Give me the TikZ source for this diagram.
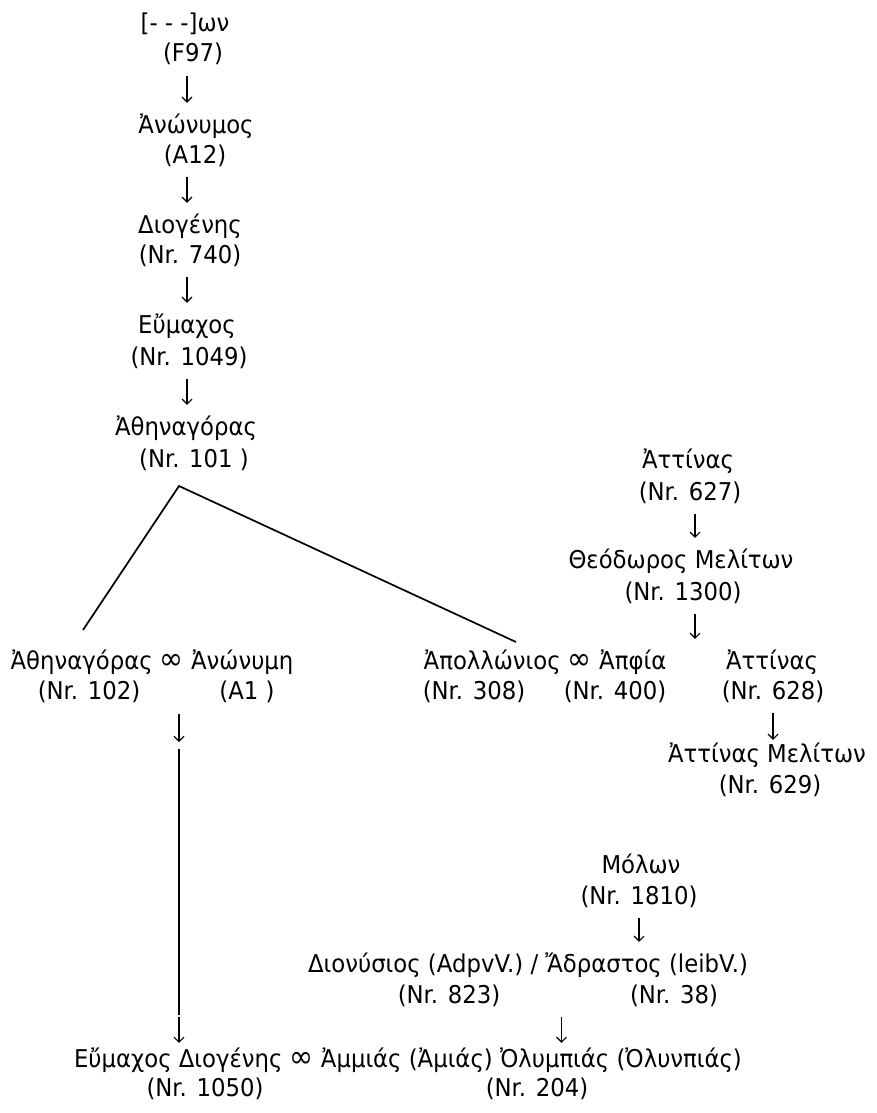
\documentclass[tikz,border=0pt]{standalone}
\usepackage{fontspec}
\setmainfont[FakeStretch=0.93]{DejaVu Sans}
\usetikzlibrary{arrows.meta,calc}

\begin{document}
\begin{tikzpicture}[x=1pt,y=-1pt,
  every node/.style={font=\fontsize{24.5pt}{30pt}\selectfont},
  txt/.style={inner sep=0pt,anchor=base,text height=18pt,text depth=6pt},
  desc/.style={-{Straight Barb[length=5pt,width=10pt]},line width=1.1pt,shorten <=8pt,shorten >=12pt},
  forkline/.style={line width=1.7pt}]
    \newcommand{\descend}[2]{
        \draw[desc] (#1.south) -- (#1.south |- #2.north);
    }
    \newcommand{\wed}{{\fontsize{31pt}{30pt}\selectfont ∞}}
  \useasboundingbox (0,0) rectangle (876,1113);

  % left column
  \coordinate (colA) at (187,0);
  \node[txt] (w1)    at (185,32)  {[- - -]ων};
  \node[txt] (f97)   at (193,62)  {(F97)};
  \node[txt] (anon)  at (196,133) {Ἀνώνυμος};
  \node[txt] (a12)   at (195,163) {(A12)};
  \node[txt] (dio)   at (190,233) {Διογένης};
  \node[txt] (n740)  at (190,263) {(Nr. 740)};
  \node[txt] (eum)   at (187,333) {Εὔμαχος};
  \node[txt] (n1049) at (189,365) {(Nr. 1049)};
  \node[txt] (ath)   at (186,435) {Ἀθηναγόρας};
  \node[txt] (n101)  at (194,467) {(Nr. 101 )};
  \draw[desc] (f97.south -| colA) -- (anon.north -| colA);
  \draw[desc] (a12.south -| colA) -- (dio.north -| colA);
  \draw[desc] (n740.south -| colA) -- (eum.north -| colA);
  \draw[desc] (n1049.south -| colA) -- (ath.north -| colA);

  % fork
  \coordinate (fork) at (179,486);
  \coordinate (forkL) at (83,630);
  \coordinate (forkR) at (516,642);
  \draw[forkline] (forkL) -- (fork) -- (forkR);

  % right column
  \coordinate (colB) at (695,0);
  \node[txt] (att1)  at (688,468) {Ἀττίνας};
  \node[txt] (n627)  at (690,500) {(Nr. 627)};
  \node[txt] (theo)  at (681,568) {Θεόδωρος Μελίτων};
  \node[txt] (n1300) at (683,600) {(Nr. 1300)};
  \draw[desc] (n627.south -| colB) -- (theo.north -| colB);

  % couples
  \node[txt] (athCp)  at (152,669) {Ἀθηναγόρας \wed{} Ἀνώνυμη};
  \node[txt] (n102)   at (89,699)  {(Nr. 102)};
  \node[txt] (a1)     at (247,699) {(A1 )};
  \node[txt] (apoCp)  at (545,669) {Ἀπολλώνιος \wed{} Ἀπφία};
  \node[txt] (n308)   at (474,699) {(Nr. 308)};
  \node[txt] (n400)   at (615,699) {(Nr. 400)};
  \node[txt] (att2)   at (772,669) {Ἀττίνας};
  \node[txt] (n628)   at (773,699) {(Nr. 628)};
  \node[txt] (attMel) at (767,762) {Ἀττίνας Μελίτων};
  \node[txt] (n629)   at (770,793) {(Nr. 629)};
  \draw[desc] (n1300.south -| colB) -- (apoCp.north -| colB);
  \draw[desc,shorten >=4pt] (n628.south) -- (n628.south |- attMel.north);

  % bottom
  \node[txt] (mol)   at (641,873)  {Μόλων};
  \node[txt] (n1810) at (639,904)  {(Nr. 1810)};
  \node[txt] (dion)  at (528,972)  {Διονύσιος (AdpvV.) / Ἄδραστος (leibV.)};
  \node[txt] (n823)  at (449,1003) {(Nr. 823)};
  \node[txt] (n38)   at (674,1003) {(Nr. 38)};
  \node[txt] (fin)   at (408,1067) {Εὔμαχος Διογένης \wed{} Ἀμμιάς (Ἀμιάς) Ὀλυμπιάς (Ὀλυνπιάς)};
  \node[txt] (n1050) at (205,1096) {(Nr. 1050)};
  \node[txt] (n204)  at (537,1096) {(Nr. 204)};
  \descend{n1810}{dion}
  \coordinate (amMid) at ($(n823.south)!.5!(n38.south)$);
  \draw[desc,shorten >=6pt] (amMid) -- (amMid |- fin.north);

  % long line down on the left
  \coordinate (colC) at (179,0);
  \coordinate (lineTop) at (179,749);
  \coordinate (lineBot) at (179,1015);
  \draw[desc,shorten <=9pt,shorten >=7pt] (n102.south -| colC) -- (lineTop);
  \draw[line width=2pt] (lineTop) -- (lineBot);
  \draw[desc,shorten <=2pt,shorten >=6pt] (lineBot) -- (lineBot |- fin.north);

\end{tikzpicture}
\end{document}
